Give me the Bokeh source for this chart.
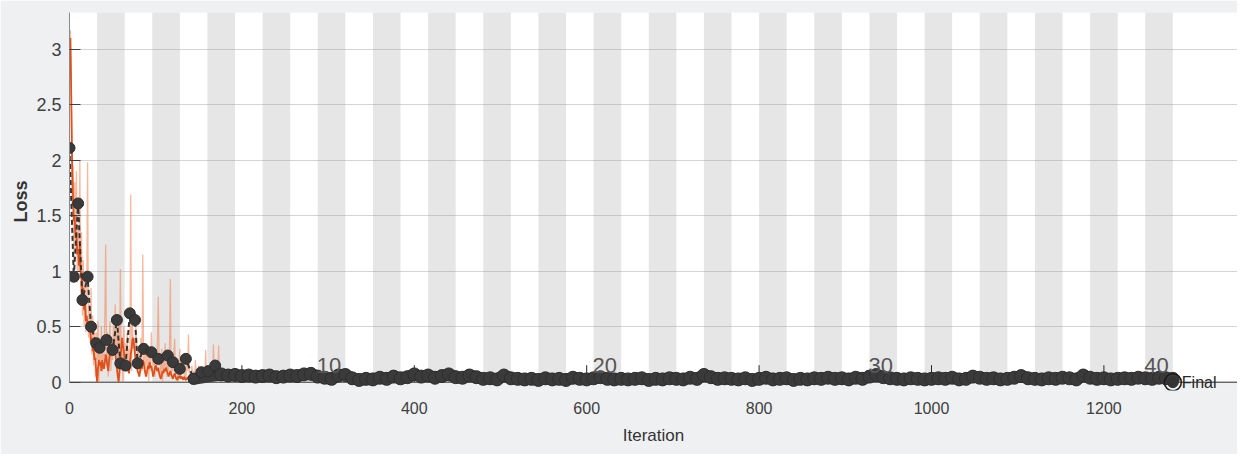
from bokeh.plotting import figure
from bokeh.models import Range1d, BoxAnnotation, Span
from bokeh.core.properties import value
from bokeh.embed import file_html
from bokeh.resources import INLINE

FONT = "Liberation Sans"

# ---- data ----
iters_per_epoch = 32
n_epochs = 40
epoch_labels = ["10", "20", "30", "40"]
epoch_label_epochs = [10, 20, 30, 40]

x_ticks = [0, 200, 400, 600, 800, 1000, 1200]
y_ticks = [0, 0.5, 1, 1.5, 2, 2.5, 3]
y_tick_labels = ["0", "0.5", "1", "1.5", "2", "2.5", "3"]

train_raw = [
    3.17, 2.8, 1.6, 1.95, 1.1, 1.8, 1.2, 1.9, 0.9, 1.4,
    1.0, 2.0, 0.75, 1.35, 0.6, 1.1, 0.5, 0.95, 0.45, 0.8,
    1.98, 0.4, 0.7, 0.35, 0.85, 0.25, 0.6, 0.15, 0.5, 0.05,
    0.45, 0.2, 0.55, 0.0, 0.35, 0.15, 0.5, 0.1, 0.4, 0.2,
    0.6, 1.24, 0.15, 0.45, 0.05, 0.3, 0.55, 0.1, 0.35, 0.2,
    0.5, 0.25, 0.7, 0.3, 0.45, 0.15, 0.6, 0.05, 1.02, 0.2,
    0.4, 0.0, 0.5, 0.25, 0.35, 0.1, 0.45, 0.2, 0.3, 0.15,
    1.69, 0.1, 0.55, 0.3, 0.4, 0.2, 0.5, 0.35, 0.15, 0.3,
    0.05, 0.25, 0.4, 0.1, 1.15, 0.2, 0.3, 0.05, 0.35, 0.15,
    0.25, 0.0, 0.3, 0.1, 0.45, 0.2, 0.15, 0.3, 0.05, 0.25,
    0.1, 0.35, 0.77, 0.15, 0.25, 0.05, 0.3, 0.0, 0.2, 0.1,
    0.35, 0.15, 0.05, 0.25, 0.1, 0.3, 0.93, 0.05, 0.2, 0.1,
    0.25, 0.39, 0.05, 0.2, 0.1, 0.0, 0.15, 0.3, 0.05, 0.2,
    0.1, 0.25, 0.05, 0.15, 0.0, 0.2, 0.1, 0.43, 0.05, 0.1,
    0.0, 0.15, 0.05, 0.1, 0.02, 0.2, 0.05, 0.1, 0.03, 0.15,
    0.05, 0.08, 0.02, 0.1, 0.04, 0.06, 0.02, 0.29, 0.03, 0.05,
    0.02, 0.08, 0.03, 0.05, 0.02, 0.06, 0.34, 0.03, 0.05, 0.02,
    0.04, 0.02, 0.33, 0.03, 0.02, 0.04, 0.02, 0.03, 0.02, 0.03,
]
train_smooth = [
    3.1, 2.6, 2.0, 1.7, 1.45, 1.5, 1.3, 1.35, 1.15, 1.2,
    1.05, 1.25, 0.95, 1.0, 0.8, 0.85, 0.65, 0.7, 0.55, 0.6,
    0.5, 0.55, 0.45, 0.5, 0.35, 0.4, 0.28, 0.3, 0.2, 0.22,
    0.1, 0.0, 0.12, 0.2, 0.15, 0.18, 0.1, 0.2, 0.15, 0.12,
    0.18, 0.25, 0.2, 0.15, 0.1, 0.2, 0.25, 0.3, 0.35, 0.28,
    0.36, 0.3, 0.27, 0.2, 0.12, 0.05, 0.0, 0.1, 0.2, 0.3,
    0.4, 0.33, 0.28, 0.2, 0.15, 0.1, 0.18, 0.12, 0.08, 0.15,
    0.25, 0.3, 0.38, 0.4, 0.32, 0.25, 0.2, 0.15, 0.1, 0.08,
    0.05, 0.1, 0.15, 0.12, 0.2, 0.18, 0.12, 0.08, 0.05, 0.1,
    0.15, 0.12, 0.18, 0.13, 0.15, 0.1, 0.05, 0.08, 0.13, 0.15,
    0.12, 0.1, 0.13, 0.08, 0.05, 0.03, 0.06, 0.1, 0.08, 0.12,
    0.1, 0.13, 0.1, 0.08, 0.05, 0.08, 0.1, 0.07, 0.05, 0.03,
    0.06, 0.08, 0.05, 0.03, 0.02, 0.05, 0.04, 0.06, 0.03, 0.05,
    0.04, 0.02, 0.05, 0.03, 0.02, 0.04, 0.03, 0.05, 0.03, 0.02,
]

val_iter_early = [0, 5, 10, 15, 21, 25, 31, 35, 43, 50, 55, 59, 65, 70,
                  76, 79, 86, 95, 103, 114, 120, 128, 135, 144, 153, 161, 169]
val_loss_early = [2.11, 0.95, 1.61, 0.74, 0.95, 0.50, 0.35, 0.31, 0.38, 0.29,
                  0.56, 0.17, 0.15, 0.62, 0.56, 0.17, 0.30, 0.27, 0.21, 0.24,
                  0.18, 0.12, 0.21, 0.03, 0.09, 0.10, 0.15]
val_step_late = 8
val_start_late = 176
val_loss_late = [
    0.07, 0.06, 0.065, 0.055, 0.06, 0.05, 0.055, 0.06, 0.045, 0.05, 0.06, 0.055, 0.07,
    0.075, 0.05, 0.04, 0.03, 0.06, 0.065, 0.035, 0.02, 0.03, 0.025, 0.04, 0.03, 0.05, 0.035, 0.045, 0.07,
    0.05, 0.06, 0.04, 0.055, 0.07, 0.045, 0.04, 0.06, 0.045, 0.03, 0.035, 0.025, 0.06, 0.035, 0.03,
    0.025, 0.03, 0.02, 0.035, 0.025, 0.03, 0.02, 0.04, 0.03, 0.025, 0.035, 0.045, 0.03, 0.025, 0.03,
    0.025, 0.03, 0.035, 0.02, 0.03, 0.025, 0.035, 0.03, 0.025, 0.04, 0.03, 0.065, 0.045, 0.03, 0.035,
    0.03, 0.025, 0.035, 0.02, 0.03, 0.04, 0.025, 0.03, 0.035, 0.02, 0.03, 0.025, 0.035, 0.03, 0.04,
    0.03, 0.035, 0.025, 0.04, 0.03, 0.05, 0.065, 0.045, 0.035, 0.03, 0.025, 0.035, 0.03, 0.025, 0.03,
    0.035, 0.03, 0.04, 0.025, 0.03, 0.05, 0.04, 0.03, 0.035, 0.025, 0.03, 0.04, 0.055, 0.035, 0.03,
    0.025, 0.035, 0.03, 0.04, 0.035, 0.025, 0.06, 0.04, 0.03, 0.035, 0.025, 0.03, 0.035, 0.03, 0.04,
    0.035, 0.03, 0.04, 0.035, 0.03,
]
final_iter = 1280
final_loss = 0.0

# ---- derived ----
val_iter_late = [val_start_late + val_step_late * i for i in range(len(val_loss_late))]
val_iter = val_iter_early + val_iter_late
val_loss = val_loss_early + val_loss_late
raw_x = list(range(1, len(train_raw) + 1))
sm_x = list(range(1, len(train_smooth) + 1))
band_left = [iters_per_epoch * (e - 1) for e in range(2, n_epochs + 1, 2)]
band_right = [iters_per_epoch * e for e in range(2, n_epochs + 1, 2)]
lab_x = [iters_per_epoch * (e - 0.5) - 3 for e in epoch_label_epochs]

Y_TOP = 3.33
Y_BOT = -0.075
BG = "#eef0f2"
PX_PER_UNIT = 370 / Y_TOP  # used only for tick length in data units
X_TICK_LEN = 17 / PX_PER_UNIT

p = figure(width=1237, height=454, x_range=Range1d(0, 1355), y_range=Range1d(Y_BOT, Y_TOP),
           output_backend="svg", toolbar_location=None,
           min_border_left=69, min_border_right=0, min_border_top=12, min_border_bottom=64)
p.background_fill_color = BG
p.border_fill_color = BG
p.outline_line_color = None

# white plotting area above y = 0
p.add_layout(BoxAnnotation(bottom=0, fill_color="white", fill_alpha=1.0,
                           line_color=None, level="image"))

p.xgrid.grid_line_color = None
p.ygrid.grid_line_color = "#d4d4d4"
p.ygrid.ticker = y_ticks[1:]

# epoch bands
p.quad(left=band_left, right=band_right, bottom=0, top=Y_TOP,
       fill_color="#9a9a9a", fill_alpha=0.25, line_color=None)

# x axis line at y = 0 and inward ticks
p.add_layout(Span(location=0, dimension="width", line_color="#262626",
                  line_width=1, level="underlay"))
p.segment(x0=x_ticks, y0=[0] * len(x_ticks), x1=x_ticks, y1=[X_TICK_LEN] * len(x_ticks),
          line_color="#262626", line_width=1)

# training loss
p.line(raw_x, train_raw, line_color="#f28a5c", line_alpha=0.6, line_width=1.3)
p.line(sm_x, train_smooth, line_color="#e0501a", line_width=1.8)

# validation
p.line(val_iter, val_loss, line_color="#333333", line_width=2, line_dash="5 3")
p.line([val_iter_early[-4]] + val_iter_late, [val_loss_early[-4]] + val_loss_late,
       line_color="#3a3a3a", line_width=12, line_join="round", line_cap="round")
p.scatter(val_iter_early, val_loss_early, size=11, marker="circle",
          fill_color="#3a3a3a", line_color="#2e2e2e")
p.scatter(val_iter_late, val_loss_late, size=13, marker="circle",
          fill_color="#3a3a3a", line_color="#2e2e2e")

# final marker
p.scatter([final_iter], [final_loss], size=17, marker="circle",
          fill_color="white", fill_alpha=0.0, line_color="#1a1a1a", line_width=1.5)
p.scatter([final_iter], [final_loss], size=11, marker="circle",
          fill_color="#333333", line_color="#333333")
p.text([final_iter], [0.0], text=["Final"], x_offset=9, text_baseline="middle",
       text_align="left", text_font=value(FONT), text_font_size="16px", text_color="#262626")

# epoch labels
p.text(lab_x, [0.15] * len(lab_x), text=epoch_labels, text_align="center",
       text_baseline="alphabetic", text_font=value(FONT), text_font_size="22px",
       text_color="#555555")

# axes
p.xaxis.ticker = x_ticks
p.xaxis.axis_line_color = None
p.xaxis.major_tick_in = 0
p.xaxis.major_tick_out = 0
p.xaxis.major_tick_line_color = None
p.xaxis.minor_tick_line_color = None
p.xaxis.major_label_standoff = 11
p.xaxis.major_label_text_font = FONT
p.xaxis.major_label_text_font_size = "16px"
p.xaxis.major_label_text_color = "#404040"
p.xaxis.axis_label = "Iteration"
p.xaxis.axis_label_text_font = FONT
p.xaxis.axis_label_text_font_size = "17px"
p.xaxis.axis_label_text_font_style = "normal"
p.xaxis.axis_label_text_color = "#333333"
p.xaxis.axis_label_standoff = 9

p.yaxis.ticker = y_ticks
p.yaxis.bounds = (0, Y_TOP)
p.yaxis.major_label_overrides = {t: s for t, s in zip(y_ticks, y_tick_labels)}
p.yaxis.axis_line_color = "#8a8a8a"
p.yaxis.major_tick_in = 11
p.yaxis.major_tick_out = 0
p.yaxis.major_tick_line_color = "#404040"
p.yaxis.minor_tick_line_color = None
p.yaxis.major_label_standoff = 8
p.yaxis.major_label_text_font = FONT
p.yaxis.major_label_text_font_size = "18px"
p.yaxis.major_label_text_color = "#404040"
p.yaxis.axis_label = "Loss"
p.yaxis.axis_label_text_font = FONT
p.yaxis.axis_label_text_font_size = "18px"
p.yaxis.axis_label_text_font_style = "bold"
p.yaxis.axis_label_text_color = "#333333"
p.yaxis.axis_label_standoff = 2

open("out.html", "w").write(file_html(p, INLINE))
